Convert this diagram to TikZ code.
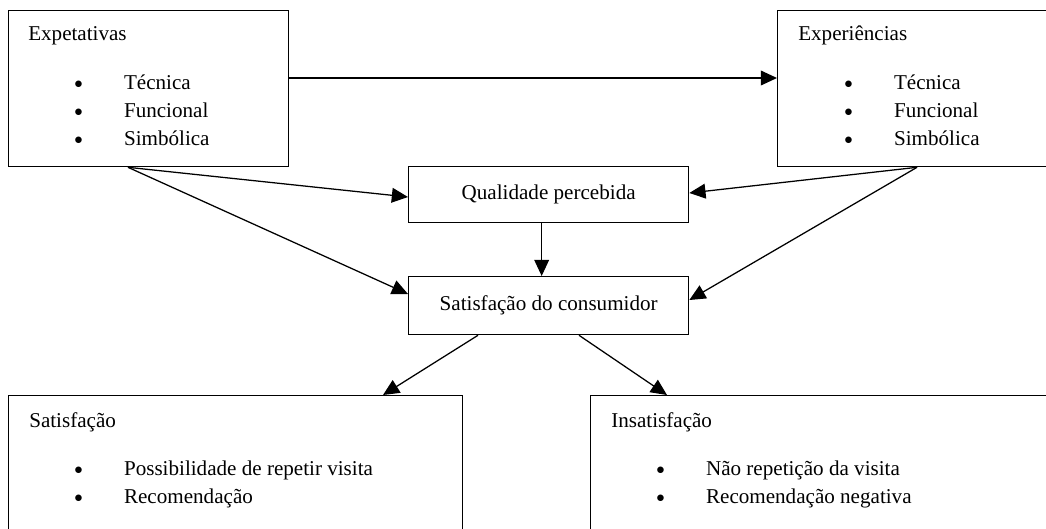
\documentclass[tikz,border=0pt]{standalone}
\usepackage{fontspec}
\setmainfont{Liberation Serif}
\usetikzlibrary{arrows.meta,positioning,calc}
\newcommand{\blt}[1]{\makebox[35.4pt][l]{\raisebox{0.6pt}{\fontsize{13}{15}\selectfont$\bullet$}}#1}

\begin{document}
\begin{tikzpicture}[
  x=0.025cm, y=-0.025cm,
  box/.style={draw, rectangle, line width=0.9pt, anchor=north west,
              inner sep=0pt, font=\fontsize{15}{18}\selectfont},
  txt/.style={anchor=base west, inner sep=0pt, font=\fontsize{15}{18}\selectfont},
  arr/.style={-{Triangle[length=11.5pt, width=10.5pt]}, line width=0.9pt}
]
  \useasboundingbox (0,0) rectangle (1046,528);
  \clip (0,0) rectangle (1046,528);

  %% Boxes
  \node[box, minimum width=7cm, minimum height=3.9cm] (expet) at (8,10) {};
  \node[box, minimum width=7cm, minimum height=3.9cm] (exper) at (777,10) {};
  \node[box, minimum width=7cm, minimum height=1.4cm] (qual) at (408,166)
    {Qualidade percebida};
  \node[box, minimum width=7cm, minimum height=1.45cm] (cons) at (408,276)
    {Satisfação do consumidor};
  \node[box, minimum width=11.35cm, minimum height=3.75cm] (sat) at (8,395) {};
  \node[box, minimum width=11.75cm, minimum height=3.75cm] (insat) at (590,395) {};

  %% Texts
  \node[txt] (expettitle) at (28,40) {Expetativas};
  \node[txt] (expet1) at (74,89) {\blt{Técnica}};
  \node[txt] (expet2) at (74,117) {\blt{Funcional}};
  \node[txt] (expet3) at (74,145) {\blt{Simbólica}};

  \node[txt] (expertitle) at (798,40) {Experiências};
  \node[txt] (exper1) at (844,89) {\blt{Técnica}};
  \node[txt] (exper2) at (844,117) {\blt{Funcional}};
  \node[txt] (exper3) at (844,145) {\blt{Simbólica}};

  \node[txt] (sattitle) at (29,427) {Satisfação};
  \node[txt] (sat1) at (74,475) {\blt{Possibilidade de repetir visita}};
  \node[txt] (sat2) at (74,503) {\blt{Recomendação}};

  \node[txt] (insattitle) at (611,427) {Insatisfação};
  \node[txt] (insat1) at (656,475) {\blt{Não repetição da visita}};
  \node[txt] (insat2) at (656,503) {\blt{Recomendação negativa}};

  %% Arrows
  \draw[arr] ($(expet.north east)+(0,68)$) -- ($(exper.north west)+(0,68)$);
  \draw[arr] ($(expet.south west)+(120,0)$) -- ($(qual.north west)+(0,31)$);
  \draw[arr] ($(expet.south west)+(120,0)$) -- ($(cons.north west)+(0,18)$);
  \draw[arr] ($(exper.south west)+(140,0)$) -- ($(qual.north east)+(0,27)$);
  \draw[arr] ($(exper.south west)+(140,0)$) -- ($(cons.north east)+(0,24)$);
  \draw[arr] ($(qual.south)+(-7,0)$) -- ($(cons.north)+(-7,0)$);
  \draw[arr] ($(cons.south west)+(70,0)$) -- ($(sat.north west)+(375,0)$);
  \draw[arr] ($(cons.south west)+(171,0)$) -- ($(insat.north west)+(77,0)$);

\end{tikzpicture}
\end{document}
